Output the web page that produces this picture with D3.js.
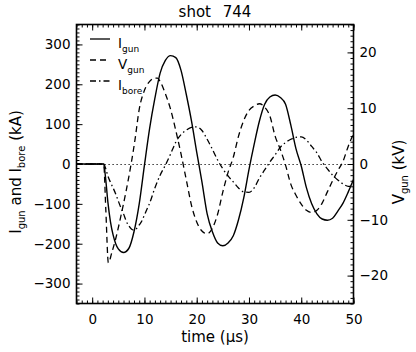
<!DOCTYPE html>
<html><head><meta charset="utf-8">
<script src="https://cdn.jsdelivr.net/npm/d3@7"></script>
<style>
body{margin:0;background:#fff}
svg{display:block;background:#fff}
text{font-family:"DejaVu Sans",sans-serif;fill:#000}
</style>
</head><body>
<svg id="c" width="416" height="352"></svg>
<script>
// ---- data ----
const titleText = "shot 744";
const xTicks = [0,10,20,30,40,50];
const yLeftTicks = [-300,-200,-100,0,100,200,300];
const yRightTicks = [-20,-10,0,10,20];

// I_gun (kA)
const tIgun = [-3,2.2,2.6,3.0,3.5,4.0,4.5,5.0,6,7,8,9,10,11,12,13,14,15,16,17,18,19,20,21,22,23,24,25,26,27,28,29,30,31,32,33,34,35,36,37,38,39,40,41,42,43,44,45,46,47,48,49,50];
const Igun = [0,0,-40,-95,-145,-178,-200,-213,-222,-212,-170,-100,-3,90,165,228,260,272,267,235,175,108,30,-45,-125,-170,-198,-205,-198,-180,-140,-85,-14,50,108,150,168,173,167,150,98,38,-5,-60,-100,-125,-138,-141,-136,-118,-98,-70,-39];

// V_gun (kV)
const tVgun = [-3,2.2,2.6,3.1,3.75,4.5,5.5,6.5,7.45,8.2,9,10,11,12,12.5,13,14,15,16,17,18,19,20,21,22,23,24,25,26,27,28,29,30,31,32,33,34,35,36,37,38,39,40,41,42,43,44,45,46,47,48,49,50];
const Vgun = [0,0,-8,-17.7,-15.9,-13.4,-9.3,-4.8,0,4.4,9.8,13.2,14.8,15.4,15.4,14.8,12.6,9.8,6.0,1.8,-2.8,-7.4,-10.4,-12.0,-12.5,-11.5,-9.0,-5.0,-1.5,1.2,5.0,7.8,9.6,10.4,10.8,10.2,8.6,5.0,2.6,-0.2,-3.6,-5.6,-7.2,-8.3,-8.7,-8.3,-7.0,-5.0,-3.0,-1.2,0.5,3.2,5.4];

// I_bore (kA)
const tIbore = [-3,2.2,2.6,3,3.5,4,4.5,5,5.5,6,6.5,7,7.5,8,8.5,9,9.5,10,10.5,11,12,13,14,15,16,17,18,19,20,21,22,23,24,25,26,27,28,29,30,31,32,33,34,35,36,37,38,39,40,41,42,43,44,45,46,47,48,49,50];
const Ibore = [0,0,-12,-30,-46,-60,-75,-93,-110,-125,-143,-155,-163,-166,-162,-153,-143,-128,-113,-98,-60,-28,-3,25,55,74,85,92,93,84,62,37,10,-12,-30,-45,-60,-70,-71,-60,-35,-15,5,23,42,54,62,67,68,60,44,28,5,-12,-28,-40,-50,-56,-54];

// ---- layout ----
const L = 76.5, R = 353.5, T = 24.5, B = 303.5;
const svg = d3.select("#c");
const x = d3.scaleLinear().domain([-3,50]).range([L,R]);
const yL = d3.scaleLinear().domain([-350,350]).range([B,T]);
const yR = d3.scaleLinear().domain([-25,25]).range([B,T]);

const ink = "#000";
function styleAxis(g){
  g.select(".domain").remove();
  g.selectAll(".tick line").attr("stroke",ink).attr("stroke-width",1);
  g.selectAll(".tick text").style("font-family","DejaVu Sans").style("font-size","13.5px").attr("fill",ink);
}
const minorX = d3.range(-3,51,1);
const minorYL = d3.range(-350,351,10);
const minorYR = d3.range(-25,26,1);

// minor ticks
svg.append("g").attr("transform",`translate(0,${B})`).call(d3.axisBottom(x).tickValues(minorX).tickSize(-3).tickFormat("")).call(styleAxis);
svg.append("g").attr("transform",`translate(0,${T})`).call(d3.axisTop(x).tickValues(minorX).tickSize(-3).tickFormat("")).call(styleAxis);
svg.append("g").attr("transform",`translate(${L},0)`).call(d3.axisLeft(yL).tickValues(minorYL).tickSize(-3).tickFormat("")).call(styleAxis);
svg.append("g").attr("transform",`translate(${R},0)`).call(d3.axisRight(yR).tickValues(minorYR).tickSize(-3).tickFormat("")).call(styleAxis);

// major ticks
svg.append("g").attr("transform",`translate(0,${B})`).call(d3.axisBottom(x).tickValues(xTicks).tickSize(-6).tickPadding(11)).call(styleAxis);
svg.append("g").attr("transform",`translate(0,${T})`).call(d3.axisTop(x).tickValues(xTicks).tickSize(-6).tickFormat("")).call(styleAxis);
svg.append("g").attr("transform",`translate(${L},0)`).call(d3.axisLeft(yL).tickValues(yLeftTicks).tickSize(-6).tickPadding(6)).call(styleAxis);
svg.append("g").attr("transform",`translate(${R},0)`).call(d3.axisRight(yR).tickValues(yRightTicks).tickSize(-6).tickPadding(6)).call(styleAxis);

// frame
svg.append("rect").attr("x",L).attr("y",T).attr("width",R-L).attr("height",B-T)
  .attr("fill","none").attr("stroke",ink).attr("stroke-width",1.6);

// zero dotted line (crisp)
const y0 = Math.round(yL(0)) + 0.5;
svg.append("line").attr("x1",x(-3)).attr("x2",x(50)).attr("y1",y0).attr("y2",y0)
  .attr("stroke",ink).attr("stroke-width",1).attr("stroke-dasharray","1.2,2.8");

const lineI = (ts,vs)=> d3.line().x((d,i)=>x(ts[i])).y(d=>yL(d)).curve(d3.curveMonotoneX)(vs);
const lineV = (ts,vs)=> d3.line().x((d,i)=>x(ts[i])).y(d=>yR(d)).curve(d3.curveMonotoneX)(vs);

svg.append("path").attr("d",lineI(tIbore,Ibore)).attr("fill","none").attr("stroke",ink).attr("stroke-width",1.3).attr("stroke-dasharray","6,3,1.5,3");
svg.append("path").attr("d",lineV(tVgun,Vgun)).attr("fill","none").attr("stroke",ink).attr("stroke-width",1.3).attr("stroke-dasharray","6,4");
svg.append("path").attr("d",lineI(tIgun,Igun)).attr("fill","none").attr("stroke",ink).attr("stroke-width",1.4);

// legend
const legend = [
  {main:"I", sub:"gun", dash:null},
  {main:"V", sub:"gun", dash:"6,4"},
  {main:"I", sub:"bore", dash:"6,3,1.5,3"}
];
legend.forEach((d,i)=>{
  const yy = 39 + i*21;
  svg.append("line").attr("x1",90).attr("x2",110).attr("y1",yy).attr("y2",yy)
    .attr("stroke",ink).attr("stroke-width",1.3).attr("stroke-dasharray",d.dash);
  const t = svg.append("text").attr("x",118).attr("y",yy+9).style("font-size","13.5px");
  t.append("tspan").text(d.main);
  t.append("tspan").attr("dy",4).style("font-size","9px").text(d.sub);
});

// title
svg.append("text").attr("x",(L+R)/2).attr("y",17).attr("text-anchor","middle")
  .style("font-size","15px").style("word-spacing","7px").text(titleText);

// x label
const xl = svg.append("text").attr("x",(L+R)/2).attr("y",342).attr("text-anchor","middle").style("font-size","15px");
xl.text("time (μs)");

// left y label
const ly = svg.append("text").attr("transform",`translate(21,172) rotate(-90)`).attr("text-anchor","middle").style("font-size","15px");
ly.append("tspan").text("I");
ly.append("tspan").attr("dy",4).style("font-size","10px").text("gun");
ly.append("tspan").attr("dy",-4).text(" and I");
ly.append("tspan").attr("dy",4).style("font-size","10px").text("bore");
ly.append("tspan").attr("dy",-4).text(" (kA)");

// right y label
const ry = svg.append("text").attr("transform",`translate(404,172) rotate(-90)`).attr("text-anchor","middle").style("font-size","15px");
ry.append("tspan").text("V");
ry.append("tspan").attr("dy",4).style("font-size","10px").text("gun");
ry.append("tspan").attr("dy",-4).text(" (kV)");
</script>
</body></html>
